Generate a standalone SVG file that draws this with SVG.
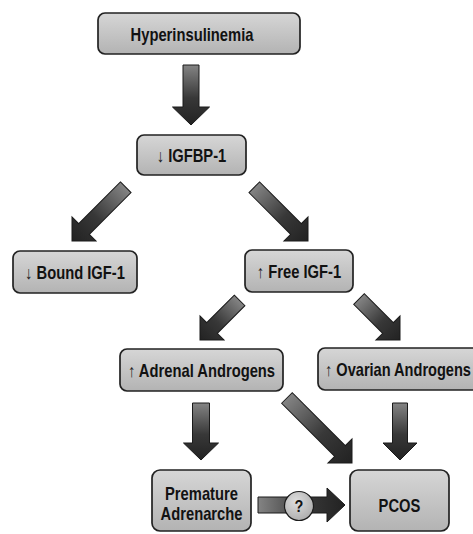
<svg xmlns="http://www.w3.org/2000/svg" width="473" height="534" viewBox="0 0 473 534">
  <defs>
    <linearGradient id="boxg" x1="0" y1="0" x2="0" y2="1">
      <stop offset="0" stop-color="#d6d6d6"/>
      <stop offset="1" stop-color="#b3b3b3"/>
    </linearGradient>
    <linearGradient id="arrg" x1="0" y1="0" x2="0" y2="1">
      <stop offset="0" stop-color="#848484"/>
      <stop offset="0.55" stop-color="#383838"/>
      <stop offset="1" stop-color="#222222"/>
    </linearGradient>
    <radialGradient id="circg" cx="0.4" cy="0.35" r="0.7">
      <stop offset="0" stop-color="#dedede"/>
      <stop offset="1" stop-color="#acacac"/>
    </radialGradient>
  </defs>
  <style>
    .box { fill: url(#boxg); stroke: #222222; stroke-width: 1.7; }
    .arr { fill: url(#arrg); stroke: #1a1a1a; stroke-width: 1; stroke-linejoin: miter; }
    .t { font-family: "Liberation Sans", Arial, sans-serif; font-weight: bold; font-size: 18px; fill: #121212; text-anchor: middle; }
    .sym { font-weight: normal; fill: #222222; }
  </style>
  <rect width="473" height="534" fill="#ffffff"/>

  <g id="connectors">
    <!-- Hyperinsulinemia -> IGFBP-1 -->
    <polygon class="arr" transform="translate(191,125)" points="-8,-60 8,-60 8,-18 18.5,-18 0,0 -18.5,-18 -8,-18"/>
    <!-- IGFBP-1 -> Bound IGF-1 -->
    <polygon class="arr" transform="translate(72,241) rotate(45)" points="-7.5,-76 7.5,-76 7.5,-17 17,-17 0,0 -17,-17 -7.5,-17"/>
    <!-- IGFBP-1 -> Free IGF-1 -->
    <polygon class="arr" transform="translate(308,241) rotate(-45)" points="-7.5,-76 7.5,-76 7.5,-17 17,-17 0,0 -17,-17 -7.5,-17"/>
    <!-- Free IGF-1 -> Adrenal -->
    <polygon class="arr" transform="translate(200,340) rotate(45)" points="-7.5,-56 7.5,-56 7.5,-17 17,-17 0,0 -17,-17 -7.5,-17"/>
    <!-- Free IGF-1 -> Ovarian -->
    <polygon class="arr" transform="translate(400,340) rotate(-45)" points="-7.5,-58 7.5,-58 7.5,-17 17,-17 0,0 -17,-17 -7.5,-17"/>
    <!-- Adrenal -> Premature Adrenarche -->
    <polygon class="arr" transform="translate(201,460)" points="-8.5,-57 8.5,-57 8.5,-17 17.5,-17 0,0 -17.5,-17 -8.5,-17"/>
    <!-- Adrenal -> PCOS -->
    <polygon class="arr" transform="translate(352,463) rotate(-45)" points="-7.5,-92 7.5,-92 7.5,-17 17,-17 0,0 -17,-17 -7.5,-17"/>
    <!-- Ovarian -> PCOS -->
    <polygon class="arr" transform="translate(400,460)" points="-7.5,-57 7.5,-57 7.5,-17 17,-17 0,0 -17,-17 -7.5,-17"/>
    <!-- Premature Adrenarche -> PCOS (?) -->
    <polygon class="arr" transform="translate(345,505) rotate(-90)" points="-8,-87 8,-87 8,-18 17,-18 0,0 -17,-18 -8,-18"/>
    <circle cx="299" cy="506" r="14.5" fill="url(#circg)" stroke="#1c1c1c" stroke-width="1.2"/>
    <text class="t" transform="translate(299,512) scale(0.85,1)" style="font-size:17px">?</text>
  </g>

  <g id="hyperinsulinemia">
    <rect class="box" x="98" y="13" width="202" height="41" rx="7"/>
    <text class="t" transform="translate(192,41) scale(0.82,1)">Hyperinsulinemia</text>
  </g>
  <g id="igfbp1">
    <rect class="box" x="137" y="135" width="109" height="40" rx="7"/>
    <text class="t" transform="translate(191.5,162) scale(0.82,1)"><tspan class="sym">↓</tspan> IGFBP-1</text>
  </g>
  <g id="bound-igf1">
    <rect class="box" x="13" y="251" width="124" height="42" rx="7"/>
    <text class="t" transform="translate(75,279) scale(0.82,1)"><tspan class="sym">↓</tspan> Bound IGF-1</text>
  </g>
  <g id="free-igf1">
    <rect class="box" x="245" y="250" width="108" height="42" rx="7"/>
    <text class="t" transform="translate(299,278) scale(0.82,1)"><tspan class="sym">↑</tspan> Free IGF-1</text>
  </g>
  <g id="adrenal-androgens">
    <rect class="box" x="120" y="349" width="163" height="42" rx="7"/>
    <text class="t" transform="translate(201.5,377) scale(0.82,1)"><tspan class="sym">↑</tspan> Adrenal Androgens</text>
  </g>
  <g id="ovarian-androgens">
    <rect class="box" x="318" y="348" width="163" height="42" rx="7"/>
    <text class="t" transform="translate(398,376) scale(0.81,1)"><tspan class="sym">↑</tspan> Ovarian Androgens</text>
  </g>
  <g id="premature-adrenarche">
    <rect class="box" x="152" y="470" width="99" height="61" rx="8"/>
    <text class="t" transform="translate(201.5,500) scale(0.82,1)">Premature</text>
    <text class="t" transform="translate(201.5,520) scale(0.82,1)">Adrenarche</text>
  </g>
  <g id="pcos">
    <rect class="box" x="350" y="470" width="99" height="61" rx="8"/>
    <text class="t" transform="translate(399.5,512) scale(0.82,1)">PCOS</text>
  </g>
</svg>
